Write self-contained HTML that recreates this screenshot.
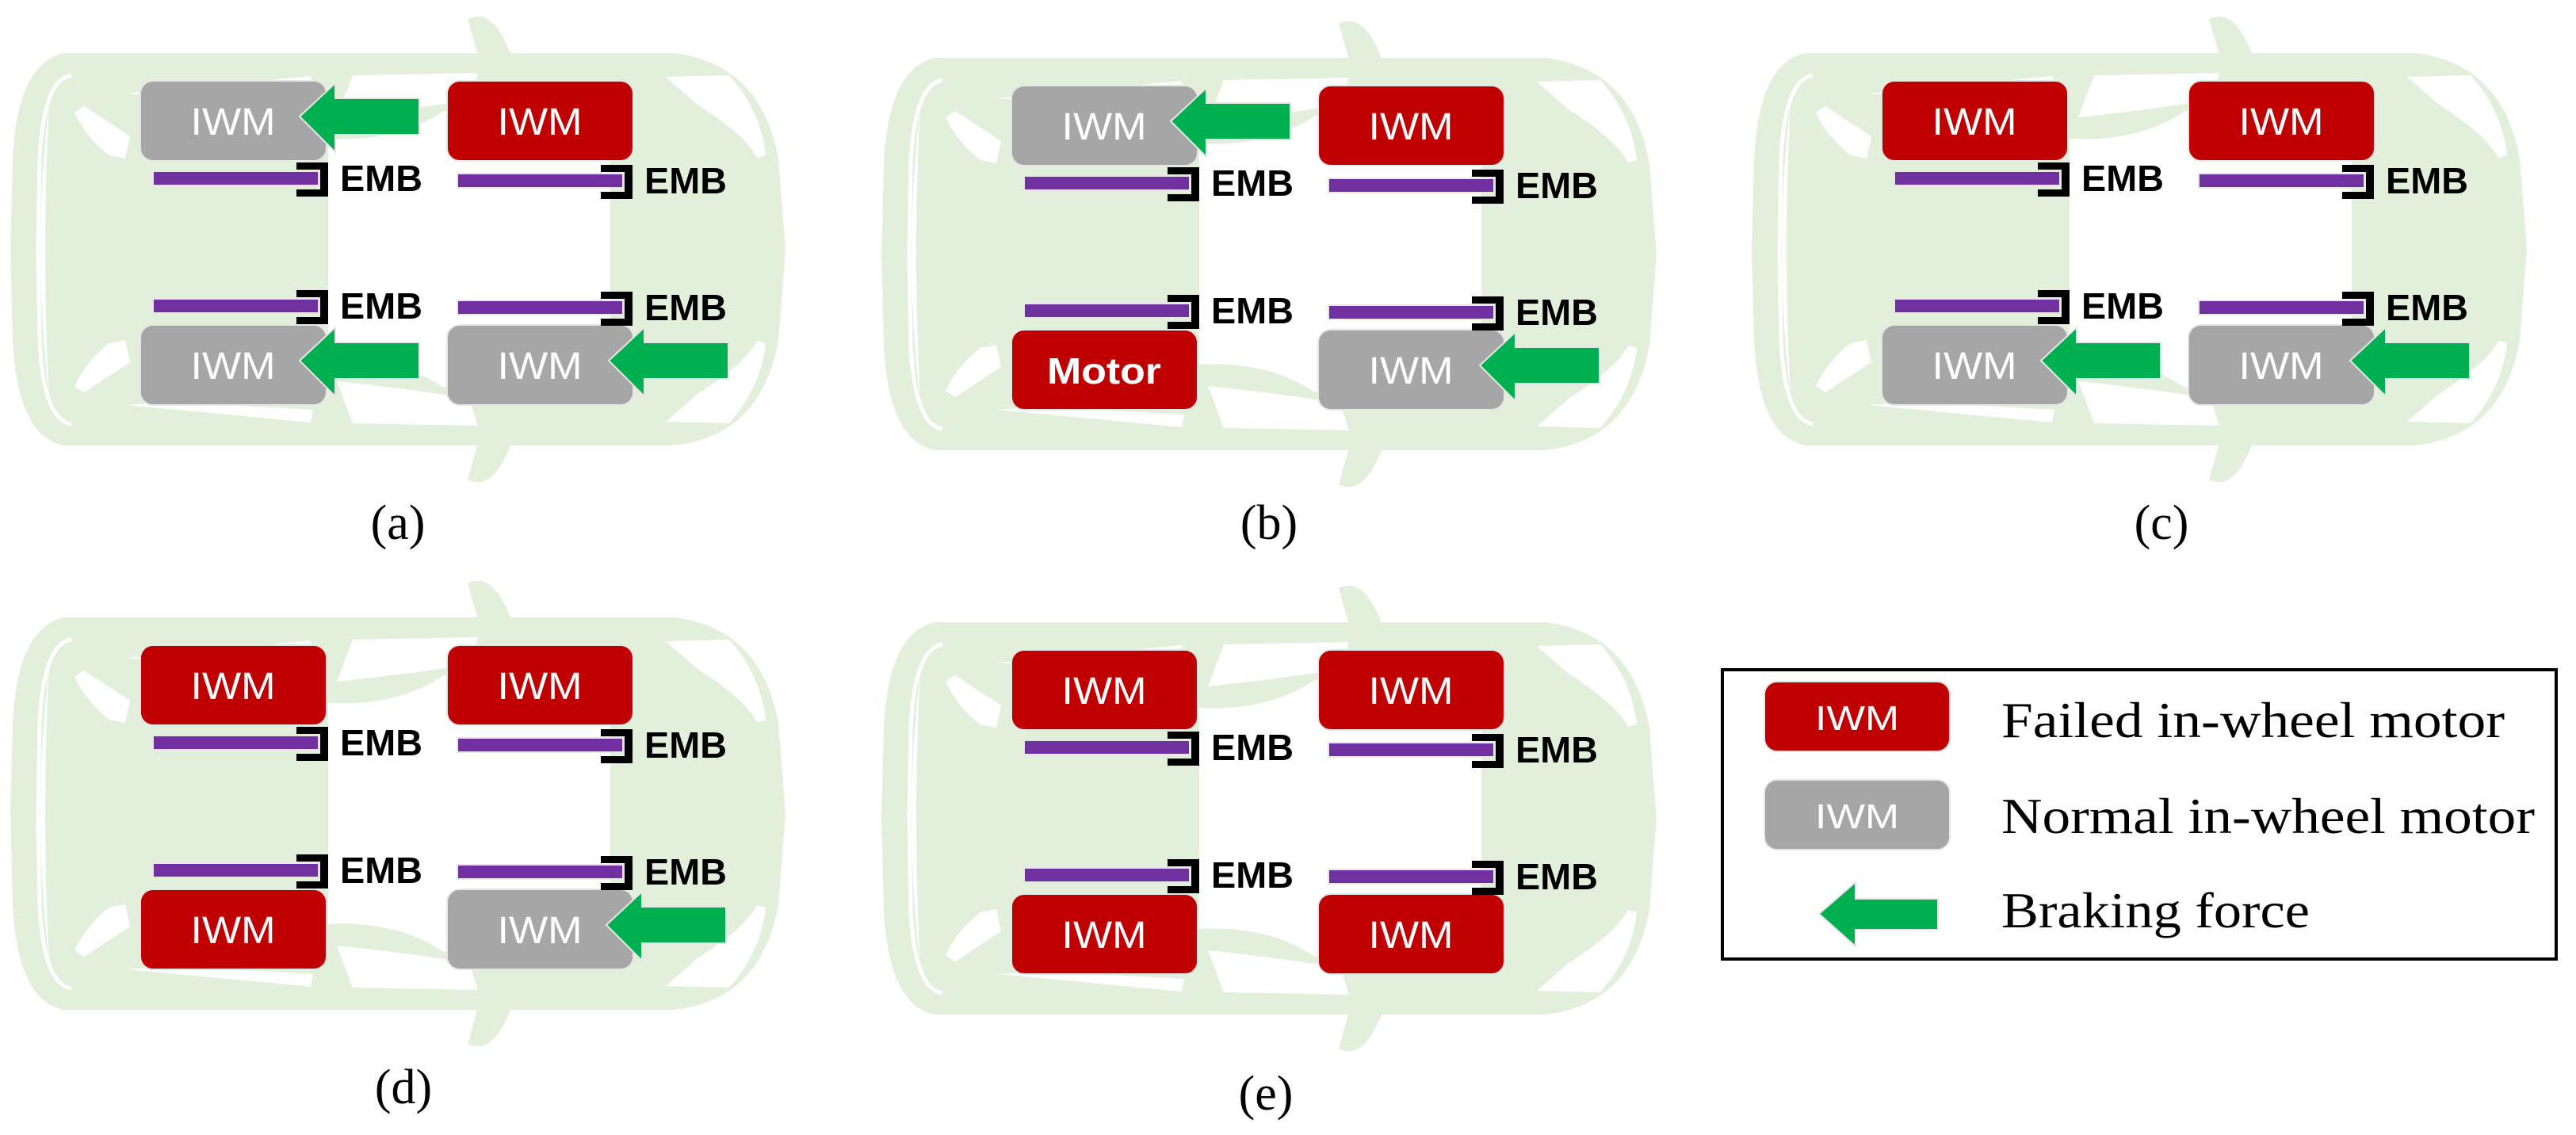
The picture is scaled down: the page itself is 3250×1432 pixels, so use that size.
<!DOCTYPE html>
<html><head><meta charset="utf-8"><style>html,body{margin:0;padding:0;background:#fff;}svg{display:block;}</style></head>
<body>
<svg width="3250" height="1432" viewBox="0 0 3250 1432" xmlns="http://www.w3.org/2000/svg">
<defs>
<g id="car">
  <path d="M590,24 Q622,8 645,70 L603,70 Z" fill="#e2efda"/>
  <path d="M590,605 Q622,621 645,559 L603,559 Z" fill="#e2efda"/>
  <path d="M80,67 L850,67 Q960,80 982,200 L991,315 L982,430 Q960,550 850,562 L80,562 Q22,550 16,430 L13,315 L16,200 Q22,80 80,67 Z" fill="#e2efda"/>
  <path d="M90,95 Q55,100 50,200 L48,315 L50,430 Q55,530 90,535" fill="none" stroke="#fff" stroke-width="5"/>
  <path d="M62,130 Q40,315 62,500 Q52,315 62,130 Z" fill="#fff"/>
  <path d="M94,142 L106,134 L164,172 L158,200 L138,196 Q110,175 94,142 Z" fill="#fff"/>
  <path d="M94,487 L106,495 L164,457 L158,429 L138,433 Q110,454 94,487 Z" fill="#fff"/>
  <path d="M160,118 L392,96 L395,112 L215,122 Z" fill="#fff"/>
  <path d="M160,511 L392,533 L395,517 L215,507 Z" fill="#fff"/>
  <path d="M445,95 L603,92 L592,126 Q520,138 425,148 Z" fill="#fff"/>
  <path d="M445,534 L603,537 L592,503 Q520,491 425,481 Z" fill="#fff"/>
  <path d="M414,175 Q500,180 560,140 L770,150 L770,480 L560,489 Q500,449 414,454 Z" fill="#fff"/>
  <path d="M840,97 L920,95 Q960,140 966,196 L955,199 Q940,170 880,132 Z" fill="#fff"/>
  <path d="M840,532 L920,534 Q960,489 966,433 L955,430 Q940,459 880,497 Z" fill="#fff"/>
</g>
<g id="emb">
  <rect x="193" y="216" width="209" height="18" fill="#7030a0" stroke="#e6e6e6" stroke-width="2"/>
  <path d="M374,205 L414,205 L414,248 L374,248 L374,239 L404,239 L404,214 L374,214 Z" fill="#000"/>
  <text x="429" y="241" font-family="Liberation Sans, sans-serif" font-weight="bold" font-size="46" textLength="104" lengthAdjust="spacingAndGlyphs">EMB</text>
</g>
<g id="embs">
  <use href="#emb"/>
  <use href="#emb" transform="translate(384,3)"/>
  <use href="#emb" transform="translate(0,161)"/>
  <use href="#emb" transform="translate(384,163)"/>
</g>
<g id="gray"><rect x="0" y="0" width="235" height="101" rx="16" fill="#a6a6a6" stroke="#e6e6e6" stroke-width="2"/><text x="117" y="68" text-anchor="middle" fill="#fff" font-family="Liberation Sans, sans-serif" font-size="48" textLength="107" lengthAdjust="spacingAndGlyphs">IWM</text></g>
<g id="red"><rect x="0" y="0" width="235" height="101" rx="16" fill="#c00000" stroke="#e6e6e6" stroke-width="2"/><text x="117" y="68" text-anchor="middle" fill="#fff" font-family="Liberation Sans, sans-serif" font-size="48" textLength="107" lengthAdjust="spacingAndGlyphs">IWM</text></g>
<g id="motor"><rect x="0" y="0" width="235" height="101" rx="16" fill="#c00000" stroke="#e6e6e6" stroke-width="2"/><text x="117" y="68" text-anchor="middle" fill="#fff" font-family="Liberation Sans, sans-serif" font-weight="bold" font-size="46" textLength="144" lengthAdjust="spacingAndGlyphs">Motor</text></g>
<polygon id="arrow" points="201,45 246,3 246,22 352,22 352,68 246,68 246,90" fill="#00b050" stroke="#e6e6e6" stroke-width="2"/>
</defs>

<g>
  <use href="#car"/>
  <use href="#gray" transform="translate(177,102)"/><use href="#arrow" transform="translate(177,102)"/>
  <use href="#red" transform="translate(564,102)"/>
  <use href="#gray" transform="translate(177,410)"/><use href="#arrow" transform="translate(177,410)"/>
  <use href="#gray" transform="translate(564,410)"/><use href="#arrow" transform="translate(567,410)"/>
  <use href="#embs"/>
  <text x="502" y="680" text-anchor="middle" font-family="Liberation Serif, serif" font-size="62">(a)</text>
</g>
<g transform="translate(1099,6)">
  <use href="#car"/>
  <use href="#gray" transform="translate(177,102)"/><use href="#arrow" transform="translate(177,102)"/>
  <use href="#red" transform="translate(564,102)"/>
  <use href="#motor" transform="translate(177,410)"/>
  <use href="#gray" transform="translate(564,410)"/><use href="#arrow" transform="translate(567,410)"/>
  <use href="#embs"/>
  <text x="502" y="674" text-anchor="middle" font-family="Liberation Serif, serif" font-size="62">(b)</text>
</g>
<g transform="translate(2197,0)">
  <use href="#car"/>
  <use href="#red" transform="translate(177,102)"/>
  <use href="#red" transform="translate(564,102)"/>
  <use href="#gray" transform="translate(177,410)"/><use href="#arrow" transform="translate(177,410)"/>
  <use href="#gray" transform="translate(564,410)"/><use href="#arrow" transform="translate(567,410)"/>
  <use href="#embs"/>
  <text x="530" y="680" text-anchor="middle" font-family="Liberation Serif, serif" font-size="62">(c)</text>
</g>
<g transform="translate(0,712)">
  <use href="#car"/>
  <use href="#red" transform="translate(177,102)"/>
  <use href="#red" transform="translate(564,102)"/>
  <use href="#red" transform="translate(177,410)"/>
  <use href="#gray" transform="translate(564,410)"/><use href="#arrow" transform="translate(564,410)"/>
  <use href="#embs"/>
  <text x="509" y="680" text-anchor="middle" font-family="Liberation Serif, serif" font-size="62">(d)</text>
</g>
<g transform="translate(1099,718)">
  <use href="#car"/>
  <use href="#red" transform="translate(177,102)"/>
  <use href="#red" transform="translate(564,102)"/>
  <use href="#red" transform="translate(177,410)"/>
  <use href="#red" transform="translate(564,410)"/>
  <use href="#embs"/>
  <text x="498" y="682" text-anchor="middle" font-family="Liberation Serif, serif" font-size="62">(e)</text>
</g>

<rect x="2173" y="845" width="1052" height="365" fill="#fff" stroke="#000" stroke-width="4"/>
<rect x="2226" y="860" width="234" height="88" rx="16" fill="#c00000" stroke="#e6e6e6" stroke-width="2"/>
<text x="2343" y="921" text-anchor="middle" fill="#fff" font-family="Liberation Sans, sans-serif" font-size="44" textLength="106" lengthAdjust="spacingAndGlyphs">IWM</text>
<rect x="2226" y="984" width="234" height="88" rx="16" fill="#a6a6a6" stroke="#e6e6e6" stroke-width="2"/>
<text x="2343" y="1045" text-anchor="middle" fill="#fff" font-family="Liberation Sans, sans-serif" font-size="44" textLength="106" lengthAdjust="spacingAndGlyphs">IWM</text>
<polygon points="2295,1153 2341,1113 2341,1134 2445,1134 2445,1173 2341,1173 2341,1194" fill="#00b050" stroke="#e6e6e6" stroke-width="2"/>
<text x="2525" y="930" font-family="Liberation Serif, serif" font-size="64" textLength="635" lengthAdjust="spacingAndGlyphs">Failed in-wheel motor</text>
<text x="2525" y="1051" font-family="Liberation Serif, serif" font-size="64" textLength="673" lengthAdjust="spacingAndGlyphs">Normal in-wheel motor</text>
<text x="2525" y="1170" font-family="Liberation Serif, serif" font-size="64" textLength="389" lengthAdjust="spacingAndGlyphs">Braking force</text>
</svg>
</body></html>
